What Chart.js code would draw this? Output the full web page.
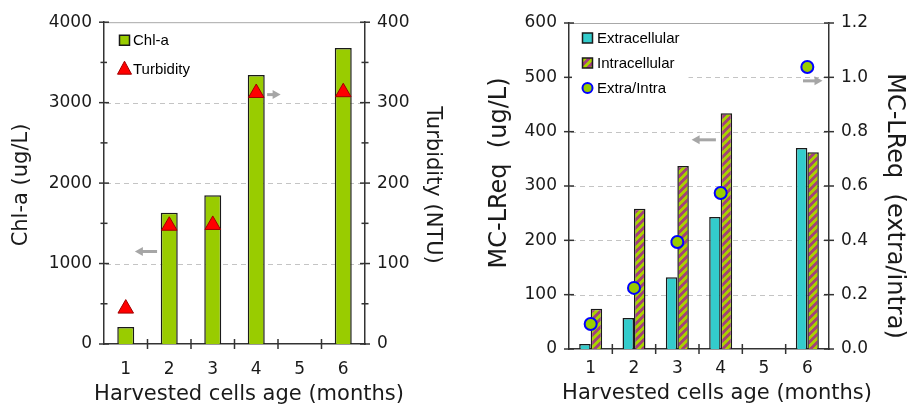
<!DOCTYPE html>
<html>
<head>
<meta charset="utf-8">
<script src="https://cdn.jsdelivr.net/npm/chart.js@4.4.0/dist/chart.umd.min.js"></script>
<style>
  html, body { margin: 0; padding: 0; background: #fff; }
  #wrap { position: relative; width: 907px; height: 405px; }
  #leftChart { position: absolute; left: 0; top: 0; }
  #rightChart { position: absolute; left: 453px; top: 0; }
</style>
</head>
<body>
<div id="wrap">
  <canvas id="leftChart" width="453" height="405"></canvas>
  <canvas id="rightChart" width="454" height="405"></canvas>
</div>
<script>
const months = ['1', '2', '3', '4', '5', '6'];

// left panel
const chlA = [210, 1630, 1850, 3345, null, 3680];
const turbidity = [44, 147, 148, 312, null, 313];
const chlTicks = [0, 1000, 2000, 3000, 4000];
const turbTicks = [0, 100, 200, 300, 400];

// right panel
const extracellular = [9, 57, 132, 243, null, 370];
const intracellular = [74, 258, 337, 434, null, 362];
const extraIntra = [0.092, 0.225, 0.394, 0.574, null, 1.038];
const mcTicks = [0, 100, 200, 300, 400, 500, 600];
const ratioTicks = [0, 0.2, 0.4, 0.6, 0.8, 1.0, 1.2];

const AXIS = '#333333';
const TXT = '#1a1a1a';
const FONT = "'DejaVu Sans', Verdana, sans-serif";

// crisp "/" stripes, green + purple
function hatchPattern(ctx) {
    const n = 8;
    const c = document.createElement('canvas');
    c.width = n; c.height = n;
    const g = c.getContext('2d');
    for (let x = 0; x < n; x++) {
        for (let y = 0; y < n; y++) {
            g.fillStyle = ((x + y) % n) < 4 ? '#a3417a' : '#a8d000';
            g.fillRect(x, y, 1, 1);
        }
    }
    return ctx.createPattern(c, 'repeat');
}

function arrow(ctx, x0, x1, y) {
    // tail at x0, head at x1
    const dir = Math.sign(x1 - x0);
    ctx.save();
    ctx.strokeStyle = '#a6a6a6';
    ctx.fillStyle = '#a6a6a6';
    ctx.lineWidth = 3;
    ctx.beginPath();
    ctx.moveTo(x0, y);
    ctx.lineTo(x1 - dir * 6, y);
    ctx.stroke();
    ctx.beginPath();
    ctx.moveTo(x1, y);
    ctx.lineTo(x1 - dir * 8, y - 4.5);
    ctx.lineTo(x1 - dir * 8, y + 4.5);
    ctx.closePath();
    ctx.fill();
    ctx.restore();
}

const decoPlugin = {
    id: 'deco',
    beforeDatasetsDraw(chart, args, opts) {
        const { ctx, chartArea: a, scales } = chart;
        ctx.save();
        ctx.lineWidth = 1;
        ctx.strokeStyle = '#c4c4c4';
        ctx.setLineDash([5, 4]);
        opts.grid.forEach(v => {
            const y = Math.round(scales.y.getPixelForValue(v)) + 0.5;
            ctx.beginPath();
            ctx.moveTo(a.left + 2, y);
            ctx.lineTo(a.right - 2, y);
            ctx.stroke();
        });
        ctx.setLineDash([]);
        ctx.strokeStyle = '#a8a8a8';
        ctx.beginPath();
        ctx.moveTo(a.left, a.top + 0.5);
        ctx.lineTo(a.right, a.top + 0.5);
        ctx.stroke();
        ctx.restore();

        (opts.arrows || []).forEach(ar => {
            const sx = scales.x, sy = scales[ar.axis];
            arrow(ctx, sx.getPixelForValue(ar.from), sx.getPixelForValue(ar.to), sy.getPixelForValue(ar.y));
        });
    },
    afterDraw(chart, args, opts) {
        const { ctx, chartArea: a, scales } = chart;
        ctx.save();
        ctx.strokeStyle = AXIS;
        ctx.lineWidth = 1.5;
        // y tick marks
        [['y', a.left], ['y2', a.right]].forEach(([id, x]) => {
            const s = scales[id];
            s.ticks.forEach(t => {
                const y = s.getPixelForValue(t.value);
                ctx.beginPath(); ctx.moveTo(x - 5, y); ctx.lineTo(x + 5, y); ctx.stroke();
            });
            opts.minor[id].forEach(v => {
                const y = s.getPixelForValue(v);
                ctx.beginPath(); ctx.moveTo(x - 3.5, y); ctx.lineTo(x + 3.5, y); ctx.stroke();
            });
        });
        // x tick marks between categories
        for (let i = 1; i < months.length; i++) {
            const x = scales.x.getPixelForValue(i - 0.5);
            ctx.beginPath(); ctx.moveTo(x, a.bottom - 5); ctx.lineTo(x, a.bottom + 5); ctx.stroke();
        }

        // axis titles (drawn here so the long x title is not squeezed to the plot width)
        ctx.fillStyle = TXT;
        ctx.textAlign = 'center';
        ctx.textBaseline = 'middle';
        opts.titles.forEach(t => {
            ctx.save();
            ctx.font = t.size + 'px ' + FONT;
            ctx.translate(t.x, t.y);
            ctx.rotate(t.rot || 0);
            ctx.fillText(t.text, 0, 0);
            ctx.restore();
        });

        // legend
        const lg = opts.legend;
        ctx.textAlign = 'left';
        ctx.font = '15px "Liberation Sans", Arial, sans-serif';
        const maxW = Math.max(...lg.items.map(it => ctx.measureText(it.text).width));
        ctx.fillStyle = '#fff';
        ctx.fillRect(a.left + 3, a.top + 3, lg.dx + maxW + 6, lg.y0 + lg.step * (lg.items.length - 1) + 10);
        lg.items.forEach((it, i) => {
            const cx = a.left + lg.mx;
            const cy = a.top + lg.y0 + i * lg.step;
            ctx.lineWidth = it.lw || 1.5;
            ctx.strokeStyle = it.stroke;
            ctx.fillStyle = it.fill;
            ctx.beginPath();
            if (it.type === 'box') {
                ctx.rect(cx - 5, cy - 5, 10, 10);
            } else if (it.type === 'triangle') {
                ctx.moveTo(cx, cy - 8);
                ctx.lineTo(cx + 7, cy + 5);
                ctx.lineTo(cx - 7, cy + 5);
                ctx.closePath();
            } else {
                ctx.arc(cx, cy, 5, 0, Math.PI * 2);
            }
            ctx.fill();
            ctx.stroke();
            ctx.fillStyle = '#000';
            ctx.fillText(it.text, a.left + lg.dx, cy + 1);
        });
        ctx.restore();
    }
};

function axisCommon(extra) {
    return Object.assign({
        grid: { display: false, drawTicks: false },
        border: { display: true, color: AXIS, width: 1.5 },
        ticks: { color: TXT, font: { family: FONT, size: 17 }, padding: 12, callback: v => String(v) }
    }, extra);
}

// ---------- left chart ----------
const lctx = document.getElementById('leftChart').getContext('2d');
new Chart(lctx, {
    data: {
        labels: months,
        datasets: [
            {
                type: 'line', label: 'Turbidity', data: turbidity, yAxisID: 'y2', order: 0,
                showLine: false, pointStyle: 'triangle', pointRadius: 9,
                pointBackgroundColor: '#ff0000', pointBorderColor: '#a00000', pointBorderWidth: 1
            },
            {
                type: 'bar', label: 'Chl-a', data: chlA, yAxisID: 'y', order: 1,
                backgroundColor: '#99cc00', borderColor: '#1a1a1a', borderWidth: 1.5,
                categoryPercentage: 1, barPercentage: 0.39
            }
        ]
    },
    options: {
        responsive: false,
        animation: false,
        layout: { padding: { top: 20 } },
        plugins: {
            legend: { display: false },
            tooltip: { enabled: false },
            deco: {
                grid: [1000, 2000, 3000],
                minor: { y: [500, 1500, 2500, 3500], y2: [50, 150, 250, 350] },
                arrows: [
                    { from: 0.72, to: 0.21, y: 1150, axis: 'y' },
                    { from: 3.25, to: 3.56, y: 310, axis: 'y2' }
                ],
                titles: [
                    { text: 'Harvested cells age (months)', x: 249, y: 395, size: 21 },
                    { text: 'Chl-a (ug/L)', x: 22, y: 185, size: 21, rot: -Math.PI / 2 },
                    { text: 'Turbidity (NTU)', x: 432, y: 185, size: 21, rot: Math.PI / 2 }
                ],
                legend: {
                    mx: 20.5, dx: 29, y0: 18, step: 29,
                    items: [
                        { type: 'box', fill: '#99cc00', stroke: '#1a1a1a', text: 'Chl-a' },
                        { type: 'triangle', fill: '#ff0000', stroke: '#a00000', lw: 1, text: 'Turbidity' }
                    ]
                }
            }
        },
        scales: {
            x: axisCommon({
                offset: true,
                ticks: { color: TXT, font: { family: FONT, size: 17 }, padding: 15 },
                afterFit: s => { s.height = 61; }
            }),
            y: axisCommon({
                position: 'left', min: 0, max: 4000,
                afterBuildTicks: s => { s.ticks = chlTicks.map(v => ({ value: v })); },
                afterFit: s => { s.width = 104; }
            }),
            y2: axisCommon({
                position: 'right', min: 0, max: 400,
                afterBuildTicks: s => { s.ticks = turbTicks.map(v => ({ value: v })); },
                afterFit: s => { s.width = 88; }
            })
        }
    },
    plugins: [decoPlugin]
});

// ---------- right chart ----------
const rctx = document.getElementById('rightChart').getContext('2d');
const hatch = hatchPattern(rctx);
new Chart(rctx, {
    data: {
        labels: months,
        datasets: [
            {
                type: 'line', label: 'Extra/Intra', data: extraIntra, yAxisID: 'y2', order: 0,
                showLine: false, pointStyle: 'circle', pointRadius: 6,
                pointBackgroundColor: '#99cc00', pointBorderColor: '#0000ff', pointBorderWidth: 2
            },
            {
                type: 'bar', label: 'Extracellular', data: extracellular, yAxisID: 'y', order: 1,
                backgroundColor: '#33cccc', borderColor: '#1a1a1a', borderWidth: 1.5,
                categoryPercentage: 0.53, barPercentage: 1
            },
            {
                type: 'bar', label: 'Intracellular', data: intracellular, yAxisID: 'y', order: 2,
                backgroundColor: hatch, borderColor: '#1a1a1a', borderWidth: 1.5,
                categoryPercentage: 0.53, barPercentage: 1
            }
        ]
    },
    options: {
        responsive: false,
        animation: false,
        layout: { padding: { top: 23 } },
        plugins: {
            legend: { display: false },
            tooltip: { enabled: false },
            deco: {
                grid: [100, 200, 300, 400, 500],
                minor: { y: [], y2: [] },
                arrows: [
                    { from: 2.89, to: 2.33, y: 385, axis: 'y' },
                    { from: 4.9, to: 5.35, y: 0.987, axis: 'y2' }
                ],
                titles: [
                    { text: 'Harvested cells age (months)', x: 264, y: 394, size: 21 },
                    { text: 'MC-LReq  (ug/L)', x: 47, y: 173, size: 24, rot: -Math.PI / 2 },
                    { text: 'MC-LReq  (extra/intra)', x: 441, y: 206, size: 24, rot: Math.PI / 2 }
                ],
                legend: {
                    mx: 18.5, dx: 28, y0: 15, step: 25,
                    items: [
                        { type: 'box', fill: '#33cccc', stroke: '#1a1a1a', text: 'Extracellular' },
                        { type: 'box', fill: hatch, stroke: '#1a1a1a', text: 'Intracellular' },
                        { type: 'circle', fill: '#99cc00', stroke: '#0000ff', lw: 2, text: 'Extra/Intra' }
                    ]
                }
            }
        },
        scales: {
            x: axisCommon({
                offset: true,
                ticks: { color: TXT, font: { family: FONT, size: 17 }, padding: 9 },
                afterFit: s => { s.height = 56; }
            }),
            y: axisCommon({
                position: 'left', min: 0, max: 600,
                afterBuildTicks: s => { s.ticks = mcTicks.map(v => ({ value: v })); },
                afterFit: s => { s.width = 116; }
            }),
            y2: axisCommon({
                position: 'right', min: 0, max: 1.2,
                afterBuildTicks: s => { s.ticks = ratioTicks.map(v => ({ value: v })); },
                ticks: { color: TXT, font: { family: FONT, size: 17 }, padding: 12,
                         callback: v => Number(v).toFixed(1) },
                afterFit: s => { s.width = 78; }
            })
        }
    },
    plugins: [decoPlugin]
});
</script>
</body>
</html>
